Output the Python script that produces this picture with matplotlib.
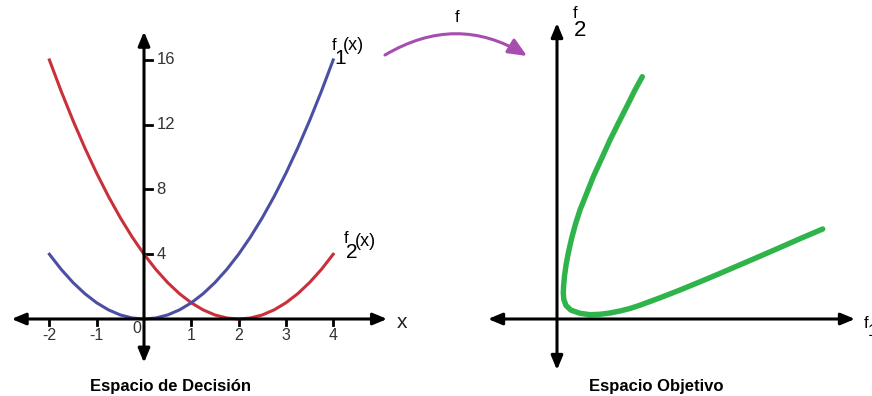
import matplotlib
matplotlib.use("Agg")
import matplotlib.pyplot as plt

plt.rcParams['font.family'] = ['Liberation Sans', 'DejaVu Sans']

# espacio de decision
x_vals = [-2.0, -1.75, -1.5, -1.25, -1.0, -0.75, -0.5, -0.25, 0.0, 0.25, 0.5, 0.75, 1.0,
          1.25, 1.5, 1.75, 2.0, 2.25, 2.5, 2.75, 3.0, 3.25, 3.5, 3.75, 4.0]
f1_vals = [4.0, 3.0625, 2.25, 1.5625, 1.0, 0.5625, 0.25, 0.0625, 0.0, 0.0625, 0.25, 0.5625, 1.0,
           1.5625, 2.25, 3.0625, 4.0, 5.0625, 6.25, 7.5625, 9.0, 10.5625, 12.25, 14.0625, 16.0]
f2_vals = [16.0, 14.0625, 12.25, 10.5625, 9.0, 7.5625, 6.25, 5.0625, 4.0, 3.0625, 2.25, 1.5625, 1.0,
           0.5625, 0.25, 0.0625, 0.0, 0.0625, 0.25, 0.5625, 1.0, 1.5625, 2.25, 3.0625, 4.0]
x_ticks = [-2, -1, 1, 2, 3, 4]
y_ticks = [4, 8, 12, 16]

# espacio objetivo (curva dibujada, unidades arbitrarias)
obj_f1 = [8.53, 7.8, 6.97, 6.13, 5.3, 4.47, 3.63, 2.97, 2.3, 1.85, 1.47, 1.15, 0.92, 0.75, 0.66,
          0.63, 0.68, 0.9, 1.4, 2.3, 3.3, 4.3, 5.3, 6.3, 7.3, 8.3, 10.3, 12.3, 14.3, 16.3, 18.3,
          20.3, 22.3, 24.3, 26.57]
obj_f2 = [24.23, 22.9, 21.23, 19.57, 17.9, 16.07, 14.23, 12.57, 10.9, 9.5, 8.1, 6.7, 5.5, 4.3, 3.3,
          2.6, 1.95, 1.35, 0.88, 0.57, 0.43, 0.47, 0.6, 0.8, 1.05, 1.38, 2.12, 2.9, 3.72, 4.56, 5.42,
          6.28, 7.15, 8.03, 9.0]

W, H = 872, 396


def px(x, y):
    return x / W, 1 - y / H


fig = plt.figure(figsize=(W / 100, H / 100), dpi=100)

axis_arrow = dict(arrowstyle='<|-|>,head_length=0.6,head_width=0.25', color='black',
                  lw=2.2, mutation_scale=14, shrinkA=0, shrinkB=0)

# panel izquierdo
axL = fig.add_axes([0, 0, 440 / W, 1])
axL.set_xlim(-144 / 47.3, 296 / 47.3)
axL.set_ylim(-77 / 16.19, 319 / 16.19)
axL.axis('off')

axL.annotate('', xy=(5.14, 0), xytext=(-2.8, 0), arrowprops=axis_arrow)
axL.annotate('', xy=(0, 17.75), xytext=(0, -2.7), arrowprops=axis_arrow)
for t in x_ticks:
    axL.plot([t, t], [0, -0.4], color='black', lw=2)
    axL.text(t, -1.0, str(t), ha='center', va='center', fontsize=11.5, color='#333333')
axL.text(-0.15, -0.58, '0', ha='center', va='center', fontsize=11.5, color='#333333')
for t in y_ticks:
    axL.plot([0, 0.17], [t, t], color='black', lw=2)
    axL.text(0.26, t, str(t), ha='left', va='center', fontsize=12, color='#333333')
axL.text(5.35, -0.2, 'x', ha='left', va='center', fontsize=15, color='#222222')

axL.plot(x_vals, f2_vals, color='#c9303a', lw=2.2)
axL.plot(x_vals, f1_vals, color='#4b4fa3', lw=2.2)

# etiquetas f1(x), f2(x)
fig.text(*px(332, 45), 'f', fontsize=12, ha='left', va='center')
fig.text(*px(334, 58), '1', fontsize=15, ha='left', va='center')
fig.text(*px(343, 46), '(x)', fontsize=13, ha='left', va='center')
fig.text(*px(344, 239), 'f', fontsize=12, ha='left', va='center')
fig.text(*px(346, 253), '2', fontsize=15, ha='left', va='center')
fig.text(*px(355, 241), '(x)', fontsize=13, ha='left', va='center')

fig.text(*px(171, 386), 'Espacio de Decisión', fontsize=12, fontweight='bold',
         ha='center', va='center')

# flecha f
axL.annotate('', xy=px(527, 56), xycoords='figure fraction', xytext=px(385, 55),
             textcoords='figure fraction', annotation_clip=False,
             arrowprops=dict(arrowstyle='-|>,head_length=0.8,head_width=0.35',
                             connectionstyle='arc3,rad=-0.3', color='#a64daf', lw=2.2,
                             mutation_scale=14, shrinkA=0, shrinkB=0))
fig.text(*px(457, 18), 'f', fontsize=12, ha='center', va='center')

# panel derecho
axR = fig.add_axes([440 / W, 0, 432 / W, 1])
axR.set_xlim(-11.7, 31.5)
axR.set_ylim(-7.7, 31.9)
axR.axis('off')

axR.annotate('', xy=(29.8, 0), xytext=(-6.9, 0), arrowprops=axis_arrow)
axR.annotate('', xy=(0, 29.6), xytext=(0, -5.1), arrowprops=axis_arrow)
axR.plot(obj_f1, obj_f2, color='#2fb34b', lw=3.9, solid_capstyle='round', solid_joinstyle='round')

fig.text(*px(575, 14), 'f', fontsize=12, ha='center', va='center')
fig.text(*px(580, 31), '2', fontsize=16, ha='center', va='center')
fig.text(*px(864, 323), 'f', fontsize=12, ha='left', va='center')
fig.text(*px(868, 332), '1', fontsize=12, ha='left', va='center')
fig.text(*px(656, 386), 'Espacio Objetivo', fontsize=12, fontweight='bold',
         ha='center', va='center')

fig.savefig('out.png', dpi=100)
